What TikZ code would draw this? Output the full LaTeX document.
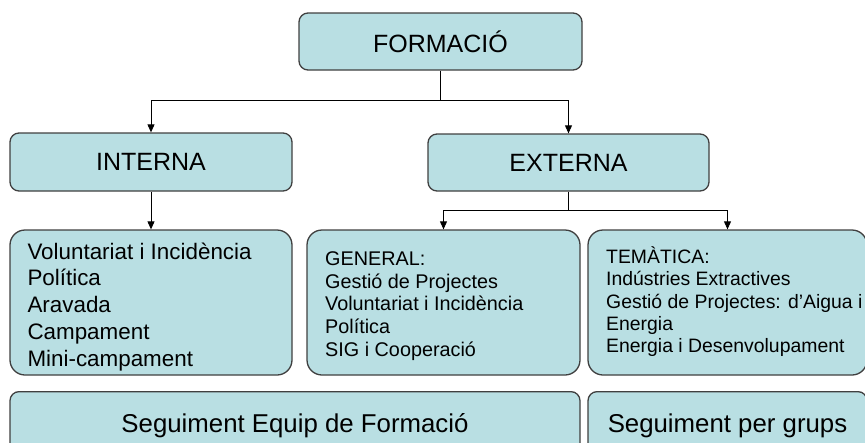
\documentclass[tikz,border=0pt]{standalone}
\usepackage{fontspec}
\setmainfont{Liberation Sans}
\usetikzlibrary{arrows.meta}
\definecolor{boxfill}{RGB}{185,223,227}
\definecolor{boxline}{RGB}{64,64,64}
\begin{document}
\begin{tikzpicture}[x=1pt,y=-1pt,
  box/.style={draw=boxline, line width=1.3pt, fill=boxfill, rounded corners=9pt, inner sep=0pt},
  bigbox/.style={box, rounded corners=15pt},
  titletxt/.style={font=\fontsize{25}{29}\selectfont},
  listtxt/.style={inner sep=0pt, anchor=north west, align=left},
  conn/.style={draw=black, line width=0.9pt},
  arr/.style={conn, -{Triangle[length=8pt,width=7pt]}}]
\useasboundingbox (0,0) rectangle (865,442);
\clip (0,0) rectangle (865,442);
% top level
\node[box, titletxt, minimum width=283pt, minimum height=57pt] (F) at (440.5,41.5) {FORMACIÓ};
\node[box, titletxt, minimum width=282pt, minimum height=58pt] (I) at (151,162) {INTERNA};
\node[box, titletxt, minimum width=281pt, minimum height=57pt] (E) at (568.5,162.5) {EXTERNA};
% content boxes
\node[bigbox, minimum width=282pt, minimum height=145pt] (IL) at (151,302.5) {};
\node[bigbox, minimum width=273pt, minimum height=145pt] (G) at (443.5,302.5) {};
\node[bigbox, minimum width=279pt, minimum height=145pt] (T) at (727.5,302.5) {};
\node[listtxt, font=\fontsize{22.4}{26.7}\selectfont] (ILt) at (27.3,237) {\rule{0pt}{22pt}Voluntariat i Incidència\\Política\\Aravada\\Campament\\Mini-campament};
\node[listtxt, font=\fontsize{19.8}{22.6}\selectfont] (Gt) at (325,245.5) {\rule{0pt}{20pt}GENERAL:\\Gestió de Projectes\\Voluntariat i Incidència\\Política\\SIG i Cooperació};
\node[listtxt, font=\fontsize{19.4}{22.3}\selectfont] (Tt) at (606,243.3) {\rule{0pt}{20pt}TEMÀTICA:\\Indústries Extractives\\Gestió de Projectes: d’Aigua i\\Energia\\Energia i Desenvolupament};
% bottom boxes
\node[box, font=\fontsize{25.8}{30}\selectfont, anchor=north, minimum width=570pt, inner ysep=0pt, text height=41pt, text depth=40pt] (SE) at (295,391) {Seguiment Equip de Formació};
\node[box, font=\fontsize{25.8}{30}\selectfont, anchor=north, minimum width=279pt, inner ysep=0pt, text height=41pt, text depth=40pt] (SG) at (727.5,391) {Seguiment per grups};
% connectors
\coordinate (j1) at (440.5,100);
\coordinate (j2) at (568.5,210);
\draw[conn] (F.south) -- (j1);
\draw[arr] (j1) -| (I.north);
\draw[arr] (j1) -| (E.north);
\draw[arr] (I.south) -- (IL.north);
\draw[conn] (E.south) -- (j2);
\draw[arr] (j2) -| (G.north);
\draw[arr] (j2) -| (T.north);
\end{tikzpicture}
\end{document}
